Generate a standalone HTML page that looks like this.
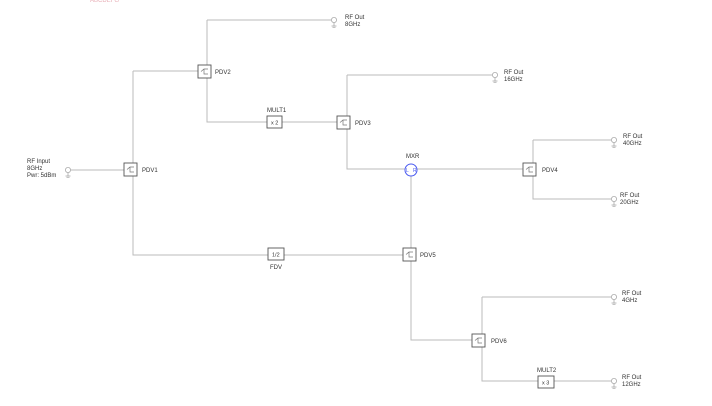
<!DOCTYPE html>
<html><head><meta charset="utf-8"><style>
html,body{margin:0;padding:0;background:#fff;}
svg{display:block;}
text{font-family:"Liberation Sans",sans-serif;font-size:6px;fill:#333;}
</style></head><body>
<svg width="712" height="406" viewBox="0 0 712 406" xmlns="http://www.w3.org/2000/svg">
<defs>
<g id="port"><circle cx="0" cy="0" r="2.6" fill="none" stroke="#aaa" stroke-width="0.8"/><line x1="0" y1="2.6" x2="0" y2="6" stroke="#aaa" stroke-width="0.8"/><line x1="-2.5" y1="6" x2="2.5" y2="6" stroke="#aaa" stroke-width="0.8"/><line x1="-1.5" y1="7.3" x2="1.5" y2="7.3" stroke="#aaa" stroke-width="0.8"/></g>
<g id="pdv"><rect x="0" y="0" width="13" height="13" fill="#fff" stroke="#555" stroke-width="0.9"/><path d="M3 6.5 L6 4 H10 M6 4 V9 H10" fill="none" stroke="#777" stroke-width="0.7"/></g>
</defs>
<text x="90" y="2" style="fill:#e8b0b8">ABCDEFG</text>
<g stroke="#bbb" stroke-width="1" fill="none">
<path d="M71 170 H124"/>
<path d="M133 71 H198 M133 71 V255 H403"/>
<path d="M207 20 H331 M207 20 V122 H337"/>
<path d="M347 75 H492 M347 75 V169 H523"/>
<path d="M533 140 H611 M533 140 V199 H611"/>
<path d="M411 176 V340 H472"/>
<path d="M482 297 H611 M482 297 V381 H611"/>
</g>
<use href="#port" x="68" y="170"/>
<use href="#port" x="334" y="20"/>
<use href="#port" x="495" y="75"/>
<use href="#port" x="614" y="140"/>
<use href="#port" x="614" y="199"/>
<use href="#port" x="614" y="297"/>
<use href="#port" x="614" y="381"/>
<use href="#pdv" x="124" y="163"/>
<use href="#pdv" x="198" y="65"/>
<use href="#pdv" x="337" y="116"/>
<use href="#pdv" x="523" y="163"/>
<use href="#pdv" x="403" y="248"/>
<use href="#pdv" x="472" y="334"/>
<rect x="267" y="116" width="15" height="12" fill="#fff" stroke="#555" stroke-width="0.9"/>
<text x="271" y="124.5" style="font-size:5.5px">x 2</text>
<rect x="268" y="248" width="16" height="12" fill="#fff" stroke="#555" stroke-width="0.9"/>
<text x="272" y="256.5" style="font-size:5.5px">1/2</text>
<rect x="538" y="376" width="16" height="12" fill="#fff" stroke="#555" stroke-width="0.9"/>
<text x="542" y="384.5" style="font-size:5.5px">x 3</text>
<circle cx="411" cy="170" r="6" fill="#fff" stroke="#4a5af0" stroke-width="1"/>
<text x="406" y="172" style="font-size:5px;fill:#4a5af0">L</text><text x="413" y="172" style="font-size:5px;fill:#4a5af0">R</text>
<text x="27" y="163">RF Input</text><text x="27" y="170">8GHz</text><text x="27" y="177">Pwr: 5dBm</text>
<text x="142" y="172">PDV1</text>
<text x="215" y="74">PDV2</text>
<text x="355" y="125">PDV3</text>
<text x="542" y="172">PDV4</text>
<text x="420" y="257">PDV5</text>
<text x="491" y="343">PDV6</text>
<text x="267" y="112">MULT1</text>
<text x="537" y="372">MULT2</text>
<text x="270" y="269">FDV</text>
<text x="406" y="158">MXR</text>
<text x="345" y="19">RF Out</text><text x="345" y="26">8GHz</text>
<text x="504" y="74">RF Out</text><text x="504" y="81">16GHz</text>
<text x="623" y="138">RF Out</text><text x="623" y="145">40GHz</text>
<text x="620" y="197">RF Out</text><text x="620" y="204">20GHz</text>
<text x="622" y="295">RF Out</text><text x="622" y="302">4GHz</text>
<text x="622" y="379">RF Out</text><text x="622" y="386">12GHz</text>
</svg>
</body></html>
